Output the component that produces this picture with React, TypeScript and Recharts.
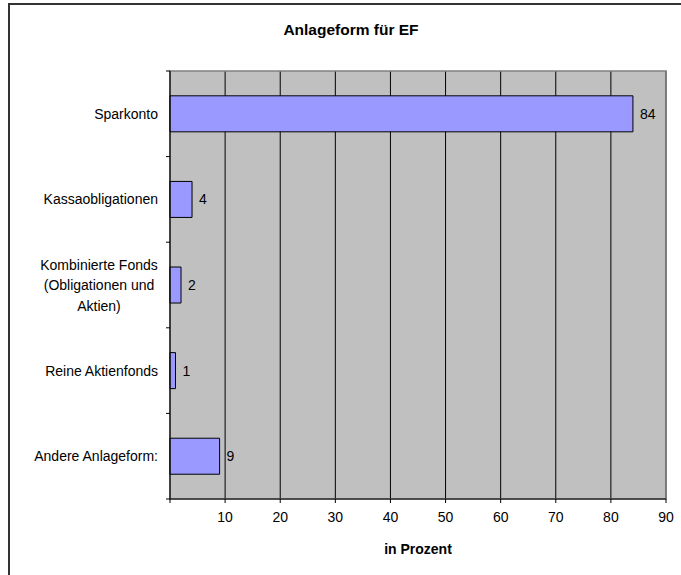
import { BarChart, Bar, XAxis, YAxis, CartesianGrid, LabelList, Label, ReferenceArea } from 'recharts';

const categories = [
  'Sparkonto',
  'Kassaobligationen',
  'Kombinierte Fonds\n(Obligationen und\nAktien)',
  'Reine Aktienfonds',
  'Andere Anlageform:',
];
const percentages = [84, 4, 2, 1, 9];
const xTicks = [0, 10, 20, 30, 40, 50, 60, 70, 80, 90];

const data = categories.map((name, i) => ({ name, value: percentages[i] }));

const W = 681;
const H = 575;
const PLOT_LEFT = 170;
const PLOT_TOP = 71;
const PLOT_RIGHT = 666;
const PLOT_BOTTOM = 499;
const BAND = (PLOT_BOTTOM - PLOT_TOP) / categories.length;
const FONT = '"Liberation Sans", Arial, sans-serif';

function CategoryTick(props: any) {
  const { y, payload, index } = props;
  const lines: string[] = String(payload.value).split('\n');
  const multi = lines.length > 1;
  const lineH = 20.5;
  const startY = y - ((lines.length - 1) * lineH) / 2;
  return (
    <g>
      <line x1={PLOT_LEFT - 4} x2={PLOT_LEFT} y1={y - BAND / 2} y2={y - BAND / 2} stroke="#000" />
      {index === categories.length - 1 && (
        <line x1={PLOT_LEFT - 4} x2={PLOT_LEFT} y1={y + BAND / 2} y2={y + BAND / 2} stroke="#000" />
      )}
      <text
        fontFamily={FONT}
        fontSize={14}
        fill="#000"
        textAnchor={multi ? 'middle' : 'end'}
        dominantBaseline="central"
      >
        {lines.map((l, i) => (
          <tspan key={i} x={multi ? 99 : PLOT_LEFT - 12} y={startY + i * lineH}>
            {l}
          </tspan>
        ))}
      </text>
    </g>
  );
}

function ValueTick(props: any) {
  const { x, y, payload } = props;
  if (payload.value === 0) return null;
  return (
    <text x={x} y={y + 17} fontFamily={FONT} fontSize={14} fill="#000" textAnchor="middle">
      {payload.value}
    </text>
  );
}

export default function App() {
  return (
    <div
      style={{
        position: 'fixed',
        left: 0,
        top: 0,
        width: W,
        height: H,
        overflow: 'hidden',
        background: '#fff',
        fontFamily: FONT,
      }}
    >
      {/* frame, only left and top edges are inside the page */}
      <div
        style={{
          position: 'absolute',
          left: 8,
          top: 3,
          width: 720,
          height: 620,
          borderLeft: '2px solid #333',
          borderTop: '2px solid #333',
        }}
      />
      <div
        style={{
          position: 'absolute',
          left: 251,
          top: 20,
          width: 200,
          textAlign: 'center',
          fontWeight: 'bold',
          fontSize: 15.5,
          lineHeight: '20px',
          color: '#000',
        }}
      >
        Anlageform für EF
      </div>
      <div style={{ position: 'absolute', left: 0, top: 0 }}>
        <BarChart
          width={W}
          height={H}
          data={data}
          layout="vertical"
          barCategoryGap="29%"
          margin={{ top: PLOT_TOP, right: W - PLOT_RIGHT, bottom: H - PLOT_BOTTOM - 60, left: 10 }}
        >
          <CartesianGrid horizontal={false} stroke="#000" fill="#C0C0C0" fillOpacity={1} />
          <XAxis
            type="number"
            domain={[0, 90]}
            ticks={xTicks}
            interval={0}
            height={60}
            tickSize={4}
            tickLine={{ stroke: '#000' }}
            axisLine={{ stroke: '#000' }}
            tick={<ValueTick />}
          >
            <Label
              value="in Prozent"
              position="insideBottom"
              offset={5}
              fontFamily={FONT}
              fontSize={14}
              fontWeight="bold"
              fill="#000"
            />
          </XAxis>
          <YAxis
            type="category"
            dataKey="name"
            width={PLOT_LEFT - 10}
            tickLine={false}
            axisLine={{ stroke: '#000' }}
            tick={<CategoryTick />}
            interval={0}
          />
          <ReferenceArea x1={0} x2={90} fill="none" stroke="#808080" strokeWidth={1.5} />
          <Bar dataKey="value" fill="#9999FF" stroke="#000" strokeWidth={1} isAnimationActive={false}>
            <LabelList
              dataKey="value"
              position="right"
              offset={7}
              fill="#000"
              fontFamily={FONT}
              fontSize={14}
            />
          </Bar>
        </BarChart>
      </div>
    </div>
  );
}
